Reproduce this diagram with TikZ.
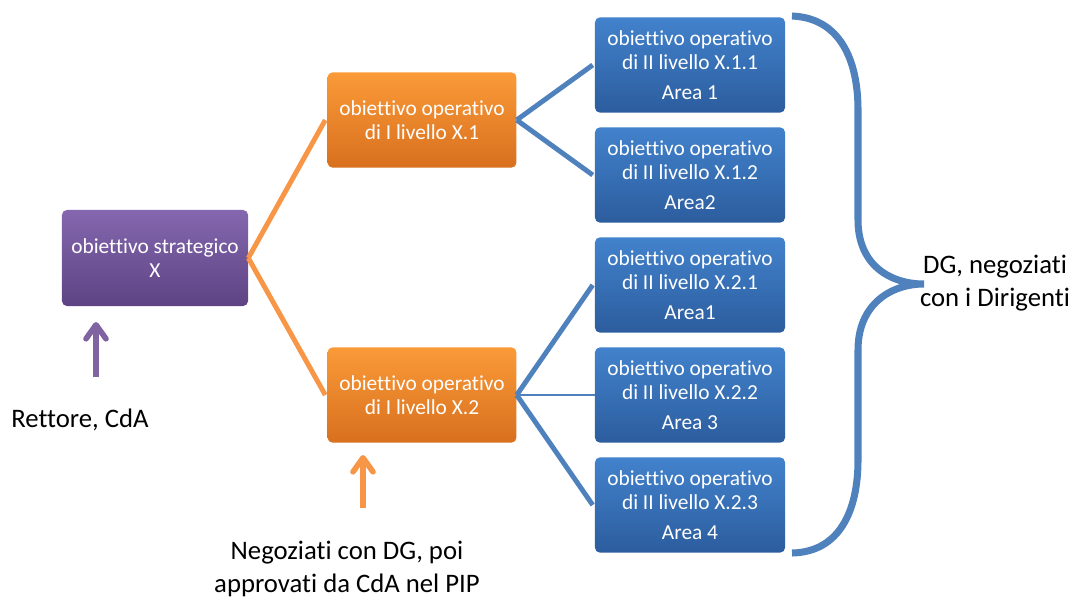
\documentclass[tikz,border=0pt]{standalone}
\usepackage{fontspec}
\setmainfont{Carlito}[RawFeature=-liga]
\usepackage{tikz}
\usetikzlibrary{calc,positioning,arrows.meta}

\definecolor{viola}{RGB}{128,100,162}
\definecolor{arancio}{RGB}{247,150,70}
\definecolor{blu}{RGB}{79,129,189}

\tikzset{
	box/.style={rectangle,rounded corners=3.5pt,text=white,align=center,
		font=\fontsize{15.2}{17.3}\selectfont,inner sep=2pt},
	strat/.style={box,minimum width=4.65cm,minimum height=2.4cm,
		top color={rgb,255:red,132;green,103;blue,174},bottom color={rgb,255:red,94;green,67;blue,132}},
	oper/.style={box,minimum width=4.72cm,minimum height=2.38cm,
		top color={rgb,255:red,250;green,154;blue,56},bottom color={rgb,255:red,216;green,112;blue,30}},
	opdue/.style={box,minimum width=4.75cm,minimum height=2.38cm,
		top color={rgb,255:red,66;green,130;blue,204},bottom color={rgb,255:red,44;green,93;blue,158}},
	nota/.style={align=center,font=\fontsize{19}{23.4}\selectfont},
	ramo/.style={line width=3.5pt},
	freccia/.style={line width=4pt,-{Straight Barb[length=0.35cm,width=0.5cm,line cap=round,line join=round]}}
}

\begin{document}
	\begin{tikzpicture}[x=0.025cm,y=-0.025cm]
		\useasboundingbox (0,0) rectangle (1070,601);
		% livelli
		\node[strat] (ob) at (155,258) {obiettivo strategico\\X};
		\node[oper] (op1) at (422,120) {obiettivo operativo\\di I livello X.1};
		\node[oper] (op2) at (422,395) {obiettivo operativo\\di I livello X.2};
		\node[opdue] (op11) at (690,65) {obiettivo operativo\\di II livello X.1.1\\[4pt]Area 1};
		\node[opdue] (op12) at (690,175) {obiettivo operativo\\di II livello X.1.2\\[4pt]Area2};
		\node[opdue] (op21) at (690,285) {obiettivo operativo\\di II livello X.2.1\\[4pt]Area1};
		\node[opdue] (op22) at (690,395) {obiettivo operativo\\di II livello X.2.2\\[4pt]Area 3};
		\node[opdue] (op23) at (690,505) {obiettivo operativo\\di II livello X.2.3\\[4pt]Area 4};
		% rami
		\draw[ramo,arancio] (ob.east) -- ($(op1.west)+(-2,0)$);
		\draw[ramo,arancio] (ob.east) -- ($(op2.west)+(-2,0)$);
		\draw[ramo,blu] (op1.east) -- ($(op11.west)+(-2,0)$);
		\draw[ramo,blu] (op1.east) -- ($(op12.west)+(-2,0)$);
		\draw[ramo,blu] (op2.east) -- ($(op21.west)+(-2,0)$);
		\draw[line width=1pt,blu] (op2.east) -- (op22.west);
		\draw[ramo,blu] (op2.east) -- ($(op23.west)+(-2,0)$);
		% graffa
		\coordinate (gtop) at (792,16);
		\coordinate (gbot) at (792,553);
		\coordinate (gpunta) at (924,284);
		\draw[line width=5pt,blu] (gtop) .. controls (840,18) and (858,60) .. (858,110) -- (858,220)
			.. controls (858,265) and (890,284) .. (gpunta)
			.. controls (890,284) and (858,305) .. (858,350) -- (858,460)
			.. controls (858,510) and (840,552) .. (gbot);
		\node[nota] (dg) at (995,283) {DG, negoziati\\con i Dirigenti};
		% chi decide
		\node[nota] (rett) at (80,420) {Rettore, CdA};
		\node[nota] (neg) at (347,569) {Negoziati con DG, poi\\approvati da CdA nel PIP};
		\coordinate (fr1) at (96,377);
		\coordinate (fr2) at (363,508);
		\draw[freccia,viola] (fr1) -- (fr1 |- {(0,322)});
		\draw[freccia,arancio] (fr2) -- (fr2 |- {(0,455)});
	\end{tikzpicture}
\end{document}
